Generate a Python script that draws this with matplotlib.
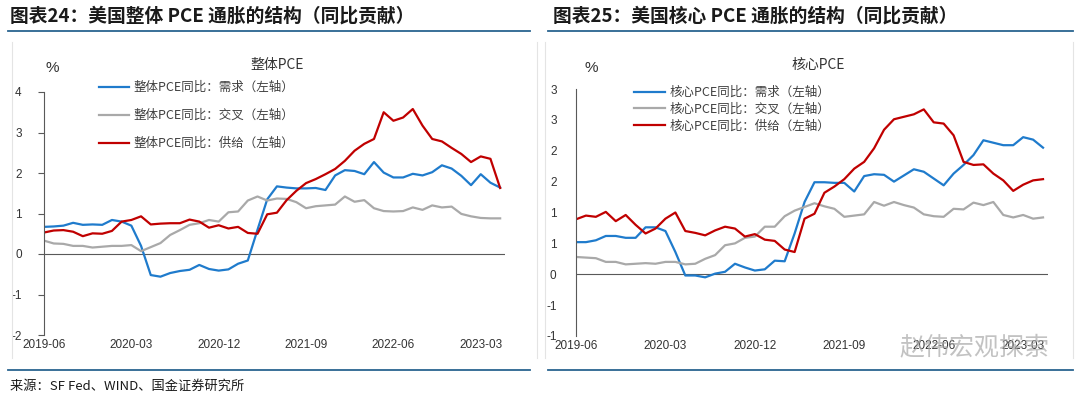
import matplotlib
matplotlib.use("Agg")
import matplotlib.pyplot as plt
from matplotlib.lines import Line2D

plt.rcParams['font.family'] = ['Noto Sans CJK SC', 'DejaVu Sans']

# monthly points, first one sits on the y axis
x_labels = ['2019-06', '2020-03', '2020-12', '2021-09', '2022-06', '2023-03']
x_label_pos = [0, 9, 18, 27, 36, 45]

# 图表24 整体PCE
total_demand = [0.67, 0.68, 0.70, 0.77, 0.72, 0.73, 0.72, 0.84, 0.80, 0.70,
                0.20, -0.52, -0.56, -0.47, -0.42, -0.39, -0.27, -0.37, -0.41, -0.38,
                -0.24, -0.16, 0.60, 1.35, 1.67, 1.64, 1.62, 1.62, 1.63, 1.58,
                1.94, 2.07, 2.05, 1.97, 2.27, 2.01, 1.89, 1.89, 1.98, 1.94,
                2.02, 2.19, 2.11, 1.93, 1.70, 1.97, 1.76, 1.64]
total_mixed = [0.33, 0.26, 0.25, 0.20, 0.20, 0.16, 0.18, 0.20, 0.20, 0.22,
               0.07, 0.17, 0.27, 0.47, 0.59, 0.72, 0.76, 0.84, 0.80, 1.03,
               1.05, 1.32, 1.42, 1.32, 1.37, 1.36, 1.28, 1.13, 1.18, 1.20,
               1.22, 1.42, 1.29, 1.33, 1.13, 1.06, 1.05, 1.06, 1.15, 1.09,
               1.20, 1.15, 1.17, 0.99, 0.93, 0.89, 0.88, 0.88]
total_supply = [0.53, 0.58, 0.59, 0.55, 0.44, 0.51, 0.50, 0.57, 0.80, 0.84,
                0.93, 0.73, 0.75, 0.76, 0.76, 0.85, 0.80, 0.65, 0.71, 0.63,
                0.67, 0.52, 0.50, 0.98, 1.02, 1.33, 1.56, 1.75, 1.85, 1.97,
                2.10, 2.30, 2.55, 2.72, 2.84, 3.50, 3.29, 3.37, 3.58, 3.17,
                2.84, 2.78, 2.62, 2.47, 2.27, 2.41, 2.35, 1.63]

# 图表25 核心PCE
core_demand = [0.52, 0.52, 0.55, 0.62, 0.62, 0.59, 0.59, 0.76, 0.76, 0.70,
               0.36, -0.02, -0.02, -0.05, 0.01, 0.04, 0.17, 0.11, 0.06, 0.08,
               0.22, 0.21, 0.66, 1.17, 1.49, 1.49, 1.48, 1.48, 1.34, 1.59,
               1.62, 1.61, 1.50, 1.60, 1.70, 1.66, 1.55, 1.44, 1.63, 1.77,
               1.93, 2.17, 2.13, 2.09, 2.09, 2.22, 2.18, 2.05]
core_mixed = [0.28, 0.27, 0.26, 0.20, 0.20, 0.16, 0.17, 0.18, 0.17, 0.20,
              0.20, 0.16, 0.17, 0.25, 0.31, 0.47, 0.50, 0.59, 0.61, 0.77,
              0.77, 0.94, 1.03, 1.09, 1.15, 1.10, 1.06, 0.93, 0.95, 0.97,
              1.17, 1.11, 1.17, 1.12, 1.08, 0.97, 0.94, 0.93, 1.06, 1.05,
              1.16, 1.12, 1.17, 0.96, 0.92, 0.96, 0.90, 0.92]
core_supply = [0.89, 0.95, 0.93, 1.01, 0.86, 0.96, 0.80, 0.66, 0.74, 0.90,
               1.00, 0.70, 0.67, 0.63, 0.71, 0.77, 0.74, 0.61, 0.65, 0.56,
               0.54, 0.40, 0.36, 0.90, 0.98, 1.32, 1.42, 1.54, 1.71, 1.82,
               2.04, 2.34, 2.51, 2.55, 2.59, 2.67, 2.46, 2.44, 2.25, 1.82,
               1.77, 1.78, 1.63, 1.52, 1.35, 1.45, 1.52, 1.54]

left_yticks = [-2, -1, 0, 1, 2, 3, 4]
right_yticks = [-1.0, -0.5, 0, 0.5, 1.0, 1.5, 2.0, 2.5, 3.0]
right_ylabels = ['-1', '-1', '0', '1', '1', '2', '2', '3', '3']

BLUE = '#1f7bcc'
GREY = '#a9a9a9'
RED = '#c00000'
AXC = '#595959'
NUM_FONT = 'Liberation Sans'

W, H = 1080, 398
fig = plt.figure(figsize=(W / 100, H / 100), dpi=100)


def fx(px):
    return px / W


def fy(py):
    return 1 - py / H


# headers, separators, frames
fig.text(fx(10), fy(16), '图表24：美国整体 PCE 通胀的结构（同比贡献）', fontsize=13.5,
         fontweight='bold', style='italic', va='center', ha='left', color='#1a1a1a')
fig.text(fx(553), fy(16), '图表25：美国核心 PCE 通胀的结构（同比贡献）', fontsize=13.5,
         fontweight='bold', style='italic', va='center', ha='left', color='#1a1a1a')
for y in (31, 370):
    fig.add_artist(Line2D([fx(8), fx(530)], [fy(y), fy(y)], color='#2a6490', lw=1.3))
    fig.add_artist(Line2D([fx(548), fx(1073)], [fy(y), fy(y)], color='#2a6490', lw=1.3))
for x in (12, 537, 545, 1073):
    fig.add_artist(Line2D([fx(x), fx(x)], [fy(42), fy(358)], color='#e4e4e4', lw=0.8))
fig.text(fx(10), fy(386), '来源：SF Fed、WIND、国金证券研究所', fontsize=9.5,
         va='center', ha='left', color='#1a1a1a')


def draw_panel(ax, demand, mixed, supply, name, ylim, yticks, ylabels, tick_len, pad):
    xs = list(range(len(demand)))
    ax.plot(xs, demand, color=BLUE, lw=1.6, label=name + '同比：需求（左轴）')
    ax.plot(xs, mixed, color=GREY, lw=1.6, label=name + '同比：交叉（左轴）')
    ax.plot(xs, supply, color=RED, lw=1.6, label=name + '同比：供给（左轴）')
    ax.axhline(0, color=AXC, lw=0.8, zorder=1)
    ax.set_xlim(0, 47.5)
    ax.set_ylim(*ylim)
    ax.set_yticks(yticks)
    ax.set_yticklabels(ylabels)
    ax.set_xticks(x_label_pos)
    ax.set_xticklabels(x_labels)
    for s in ('top', 'right', 'bottom'):
        ax.spines[s].set_visible(False)
    ax.spines['left'].set_color(AXC)
    ax.spines['left'].set_linewidth(0.8)
    ax.tick_params(axis='y', length=tick_len, width=0.8, color=AXC, pad=pad,
                   labelsize=8.5, labelcolor='#333333')
    ax.tick_params(axis='x', length=0, pad=3, labelsize=8.5, labelcolor='#333333')
    for lab in ax.get_xticklabels() + ax.get_yticklabels():
        lab.set_family(NUM_FONT)
    ax.patch.set_alpha(0)


ax1 = fig.add_axes([fx(44), fy(335), (505 - 44) / W, (335 - 92) / H])
draw_panel(ax1, total_demand, total_mixed, total_supply, '整体PCE', (-2, 4),
           left_yticks, [str(v) for v in left_yticks], 4, 12)
ax1.legend(loc='upper left', bbox_to_anchor=(fx(99), fy(81)), bbox_transform=fig.transFigure,
           frameon=False, fontsize=9, handlelength=2.4, handletextpad=0.35,
           labelspacing=1.2, borderpad=0, borderaxespad=0, labelcolor='#404040')

ax2 = fig.add_axes([fx(576), fy(336), (1048 - 576) / W, (336 - 89) / H])
draw_panel(ax2, core_demand, core_mixed, core_supply, '核心PCE', (-1, 3),
           right_yticks, right_ylabels, 0, 14)
ax2.legend(loc='upper left', bbox_to_anchor=(fx(634), fy(86)), bbox_transform=fig.transFigure,
           frameon=False, fontsize=9, handlelength=2.5, handletextpad=0.35,
           labelspacing=0.3, borderpad=0, borderaxespad=0, labelcolor='#404040')

# panel captions
fig.text(fx(277), fy(65), '整体PCE', fontsize=10, ha='center', va='center', color='#333333')
fig.text(fx(818), fy(65), '核心PCE', fontsize=10, ha='center', va='center', color='#333333')
fig.text(fx(52), fy(68), '%', fontsize=11, ha='center', va='center', color='#333333',
         family=NUM_FONT)
fig.text(fx(591), fy(68), '%', fontsize=11, ha='center', va='center', color='#333333',
         family=NUM_FONT)

# watermark, see-through so the tick labels under it stay readable
fig.text(fx(974), fy(347), '赵伟宏观探索', fontsize=18, ha='center', va='center',
         color='#a8a8a8', alpha=0.7)

fig.savefig('out.png', dpi=100)
